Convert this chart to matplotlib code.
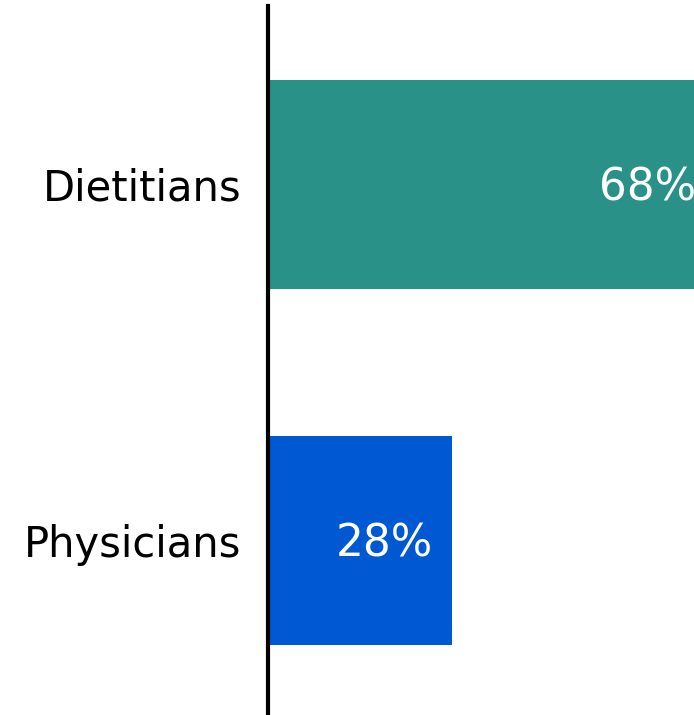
import matplotlib
matplotlib.use("Agg")
import matplotlib.pyplot as plt

categories = ["Dietitians", "Physicians"]
values = [68, 28]
colors = ["#2A9188", "#0058D3"]

fig = plt.figure(figsize=(6.94, 7.15), dpi=100)
# axes runs past the right edge of the figure, so the long bar is cut off
ax = fig.add_axes([268 / 694, 0, 1 - 268 / 694, 1 - 6 / 715])

ypos = list(range(len(categories)))
ax.barh(ypos, values, height=0.588, color=colors)

for y, v in zip(ypos, values):
    ax.text(v - 2.9, y + 0.01, f"{v}%", ha="right", va="center",
            color="white", fontsize=31.5)

ax.set_xlim(0, (694 - 268) / 6.575)
ax.set_ylim(1.492, -0.502)
ax.set_yticks(ypos)
ax.set_yticklabels(categories, fontsize=30)
ax.tick_params(axis="y", length=0, pad=19)
ax.set_xticks([])

for side in ["top", "right", "bottom"]:
    ax.spines[side].set_visible(False)
ax.spines["left"].set_linewidth(3)
ax.spines["left"].set_zorder(5)

fig.savefig("out.png", dpi=100)
